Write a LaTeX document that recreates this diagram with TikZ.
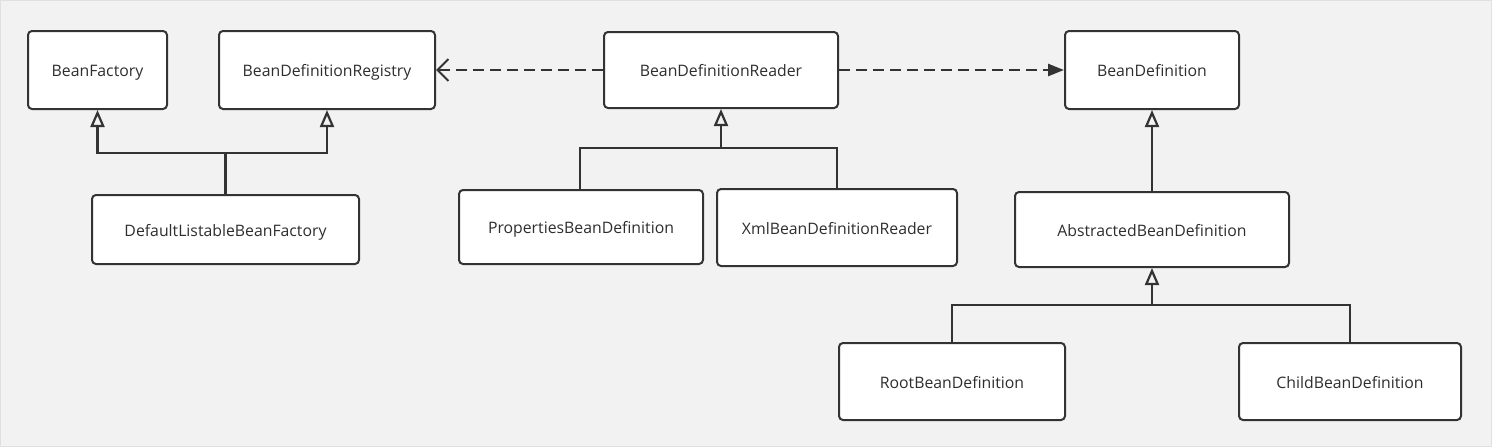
\documentclass[tikz,border=0pt]{standalone}
\usepackage{fontspec}
\setmainfont{Open Sans}
\usetikzlibrary{arrows.meta}
\definecolor{bg}{HTML}{F2F2F2}
\definecolor{edge}{HTML}{333333}
\definecolor{txt}{HTML}{2E2E2E}
\begin{document}
\begin{tikzpicture}[x=1pt,y=-1pt,
  box/.style={draw=edge, line width=2pt, fill=white, rounded corners=4pt,
    inner sep=0pt, text=txt, text height=13.5pt, text depth=0pt,
    font=\fontsize{15.8}{18}\selectfont},
  link/.style={draw=edge, line width=2.5pt, line cap=rect, line join=miter},
  inherit/.style={link, -{Triangle[open, length=17pt, width=14pt, line width=2.2pt]}},
  dep/.style={draw=edge, line width=2.5pt, dash pattern=on 11pt off 6pt},
]
\fill[bg] (0,0) rectangle (1492,447);
\draw[color=black!12, line width=1pt] (0.5,0.5) rectangle (1491.5,446.5);
\useasboundingbox (0,0) rectangle (1492,447);

\node[box, minimum width=139pt, minimum height=78pt] (bf) at (97.5,70) {BeanFactory};
\node[box, minimum width=216pt, minimum height=78pt] (reg) at (327,70) {BeanDefinitionRegistry};
\node[box, minimum width=234pt, minimum height=76pt] (rdr) at (721,70) {BeanDefinitionReader};
\node[box, minimum width=174pt, minimum height=78pt] (bd) at (1152,70) {BeanDefinition};
\node[box, minimum width=267pt, minimum height=69pt] (dlbf) at (225.5,229.5) {DefaultListableBeanFactory};
\node[box, minimum width=244pt, minimum height=74pt] (pbd) at (581,227) {PropertiesBeanDefinition};
\node[box, minimum width=240pt, minimum height=77pt] (xml) at (837,227.5) {XmlBeanDefinitionReader};
\node[box, minimum width=274pt, minimum height=75pt] (abd) at (1152,229.5) {AbstractedBeanDefinition};
\node[box, minimum width=226pt, minimum height=77pt] (rbd) at (952,381.5) {RootBeanDefinition};
\node[box, minimum width=222pt, minimum height=77pt] (cbd) at (1350,381.5) {ChildBeanDefinition};

\coordinate (j1) at (225.5,153);
\coordinate (j2) at (721,148);
\coordinate (j3) at (1152,305);

% DefaultListableBeanFactory
\draw[link] (dlbf.north) -- (j1);
\draw[link] (bf.south |- j1) -- (reg.south |- j1);
\draw[inherit] (bf.south |- j1) -- (bf.south);
\draw[inherit] (reg.south |- j1) -- (reg.south);

% Readers
\draw[link] (pbd.north -| 580,0) |- (j2);
\draw[link] (xml.north) |- (j2);
\draw[inherit] (j2) -- (rdr.south);

% dependencies
\draw[dep, -{Straight Barb[length=11pt, width=22pt, line width=2pt]}] (rdr.west) -- (reg.east);
\draw[dep, -{Triangle[length=16pt, width=12pt]}] (rdr.east) -- (bd.west);

% Abstracted
\draw[inherit] (abd.north) -- (bd.south);
\draw[link] (rbd.north) |- (j3);
\draw[link] (cbd.north) |- (j3);
\draw[inherit] (j3) -- (abd.south);
\end{tikzpicture}
\end{document}
